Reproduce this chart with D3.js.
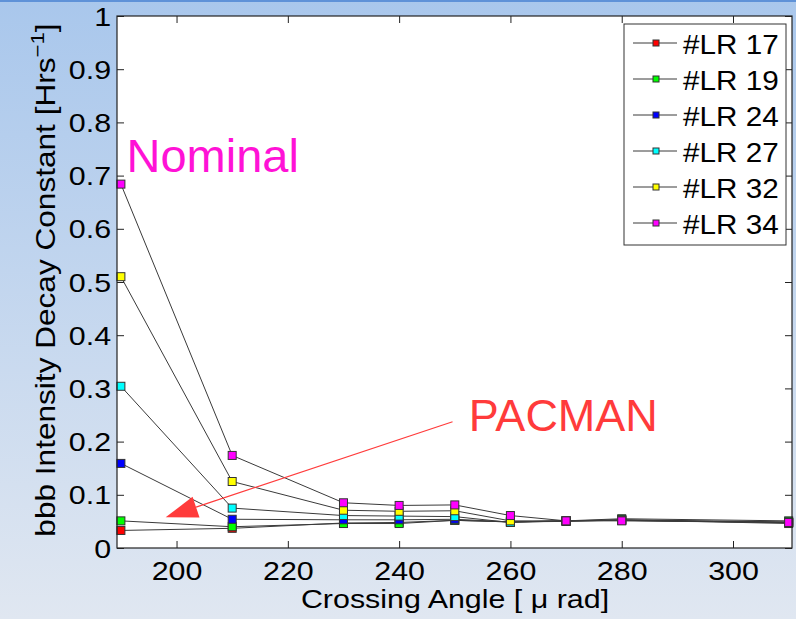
<!DOCTYPE html>
<html>
<head>
<meta charset="utf-8">
<script src="https://cdn.jsdelivr.net/npm/d3@7"></script>
<style>
  html, body { margin: 0; padding: 0; overflow: hidden; }
  text { font-family: "Liberation Sans", Arial, sans-serif; }
</style>
</head>
<body>
<script>
var w = 796;
var h = 619;

// crossing angle [urad]
var angles = [190, 210, 230, 240, 250, 260, 270, 280, 310];

// decay constants per long range setting
var lr17 = [0.033, 0.037, 0.047, 0.048, 0.052, 0.049, 0.050, 0.053, 0.046];
var lr19 = [0.051, 0.040, 0.046, 0.046, 0.052, 0.049, 0.051, 0.055, 0.051];
var lr24 = [0.159, 0.054, 0.053, 0.053, 0.054, 0.049, 0.051, 0.053, 0.049];
var lr27 = [0.304, 0.075, 0.061, 0.060, 0.059, 0.048, 0.051, 0.052, 0.048];
var lr32 = [0.510, 0.125, 0.071, 0.069, 0.070, 0.051, 0.051, 0.052, 0.048];
var lr34 = [0.684, 0.174, 0.085, 0.080, 0.081, 0.061, 0.051, 0.051, 0.048];

var seriesNames = ["#LR 17", "#LR 19", "#LR 24", "#LR 27", "#LR 32", "#LR 34"];
var seriesColors = ["#ff0000", "#00ff00", "#0000ff", "#00ffff", "#ffff00", "#ff00ff"];

var xTicks = [200, 220, 240, 260, 280, 300];
var yTicks = [0, 0.1, 0.2, 0.3, 0.4, 0.5, 0.6, 0.7, 0.8, 0.9, 1];
var yTickLabels = ["0", "0.1", "0.2", "0.3", "0.4", "0.5", "0.6", "0.7", "0.8", "0.9", "1"];

var series = [lr17, lr19, lr24, lr27, lr32, lr34].map(function(vals, i) {
  return {
    name: seriesNames[i],
    color: seriesColors[i],
    values: vals.map(function(v, j) { return { x: angles[j], y: v }; })
  };
});

var plot = { left: 117, right: 792, top: 16, bottom: 548 };
var stretch = 1.17;

var xScale = d3.scaleLinear()
  .domain([189.3, 310.6])
  .range([plot.left, plot.right]);

var yScale = d3.scaleLinear()
  .domain([0, 1])
  .range([plot.bottom, plot.top]);

var svg = d3.select("body")
  .append("svg")
  .attr("width", w)
  .attr("height", h);

// background gradient like the slide
var defs = svg.append("defs");
var grad = defs.append("linearGradient")
  .attr("id", "bg")
  .attr("x1", 0).attr("y1", 0)
  .attr("x2", 0).attr("y2", 1);
grad.append("stop").attr("offset", "0%").attr("stop-color", "#a9c7ec");
grad.append("stop").attr("offset", "100%").attr("stop-color", "#e0e7f1");

svg.append("rect")
  .attr("width", w)
  .attr("height", h)
  .attr("fill", "url(#bg)");

svg.append("rect")
  .attr("width", w)
  .attr("height", 2)
  .attr("fill", "#5f92d8");

// axes box
svg.append("rect")
  .attr("x", plot.left)
  .attr("y", plot.top)
  .attr("width", plot.right - plot.left)
  .attr("height", plot.bottom - plot.top)
  .attr("fill", "#ffffff");

// ticks (inward, on all four sides)
var xAxis = d3.axisBottom(xScale).tickValues(xTicks).tickSize(-7).tickPadding(12);
var xAxisTop = d3.axisTop(xScale).tickValues(xTicks).tickSize(-7).tickFormat("");
var yAxis = d3.axisLeft(yScale).tickValues(yTicks).tickSize(-7).tickPadding(13)
  .tickFormat(function(d, i) { return yTickLabels[i]; });
var yAxisRight = d3.axisRight(yScale).tickValues(yTicks).tickSize(-7).tickFormat("");

function styleAxis(g) {
  g.select(".domain").remove();
  g.selectAll(".tick line").attr("stroke", "#222").attr("stroke-width", 1);
  g.selectAll(".tick text")
    .attr("fill", "#000")
    .attr("font-size", 26)
    .attr("font-family", "Liberation Sans, Arial, sans-serif");
}

svg.append("g")
  .attr("transform", "translate(0," + plot.bottom + ")")
  .call(xAxis)
  .call(styleAxis)
  .selectAll(".tick text")
  .attr("dy", null)
  .attr("y", 32)
  .attr("transform", "scale(" + stretch + ",1)");

svg.append("g")
  .attr("transform", "translate(0," + plot.top + ")")
  .call(xAxisTop)
  .call(styleAxis);

svg.append("g")
  .attr("transform", "translate(" + plot.left + ",0)")
  .call(yAxis)
  .call(styleAxis)
  .selectAll(".tick text")
  .attr("dy", null)
  .attr("y", 9)
  .attr("x", -5)
  .attr("transform", "scale(" + stretch + ",1)");

svg.append("g")
  .attr("transform", "translate(" + plot.right + ",0)")
  .call(yAxisRight)
  .call(styleAxis);

// data lines and markers
var line = d3.line()
  .x(function(d) { return xScale(d.x); })
  .y(function(d) { return yScale(d.y); });

var dataG = svg.append("g");

series.forEach(function(s) {
  dataG.append("path")
    .datum(s.values)
    .attr("d", line)
    .attr("fill", "none")
    .attr("stroke", "#3a3a3a")
    .attr("stroke-width", 1);

  dataG.selectAll(null)
    .data(s.values)
    .enter()
    .append("rect")
    .attr("x", function(d) { return xScale(d.x) - 4; })
    .attr("y", function(d) { return yScale(d.y) - 4; })
    .attr("width", 8)
    .attr("height", 8)
    .attr("fill", s.color)
    .attr("stroke", "#333")
    .attr("stroke-width", 1);
});

// box outline on top
svg.append("rect")
  .attr("x", plot.left)
  .attr("y", plot.top)
  .attr("width", plot.right - plot.left)
  .attr("height", plot.bottom - plot.top)
  .attr("fill", "none")
  .attr("stroke", "#222")
  .attr("stroke-width", 1.2);

// axis labels
svg.append("text")
  .attr("transform", "translate(455,608) scale(" + stretch + ",1)")
  .attr("text-anchor", "middle")
  .attr("font-size", 26)
  .attr("fill", "#000")
  .text("Crossing Angle [ \u03bc rad]");

var yLab = svg.append("text")
  .attr("transform", "translate(55,280) rotate(-90) scale(" + stretch + ",1)")
  .attr("text-anchor", "middle")
  .attr("font-size", 27)
  .attr("fill", "#000");
yLab.append("tspan").text("bbb Intensity Decay Constant [Hrs");
yLab.append("tspan").attr("dy", -11).attr("font-size", 19).text("\u22121");
yLab.append("tspan").attr("dy", 11).text("]");

// legend
var legend = svg.append("g").attr("transform", "translate(624,24)");
legend.append("rect")
  .attr("width", 162)
  .attr("height", 221)
  .attr("fill", "#fff")
  .attr("stroke", "#333")
  .attr("stroke-width", 1);

var rowY = d3.scalePoint().domain(seriesNames).range([19, 199]);

var rows = legend.selectAll(".row")
  .data(series)
  .enter()
  .append("g")
  .attr("transform", function(d) { return "translate(0," + rowY(d.name) + ")"; });

rows.append("line")
  .attr("x1", 9).attr("x2", 53)
  .attr("stroke", "#3a3a3a")
  .attr("stroke-width", 1);

rows.append("rect")
  .attr("x", 29).attr("y", -3)
  .attr("width", 6).attr("height", 6)
  .attr("fill", function(d) { return d.color; })
  .attr("stroke", "#333")
  .attr("stroke-width", 1);

rows.append("text")
  .attr("transform", "translate(59,11) scale(1.06,1)")
  .attr("font-size", 28)
  .attr("fill", "#000")
  .text(function(d) { return d.name; });

// annotations
svg.append("text")
  .attr("x", xScale(191.0))
  .attr("y", yScale(0.706))
  .attr("font-size", 47)
  .attr("fill", "#ff12d6")
  .text("Nominal");

svg.append("text")
  .attr("x", xScale(252.5))
  .attr("y", yScale(0.22))
  .attr("font-size", 45)
  .attr("fill", "#ff3b3b")
  .text("PACMAN");

// arrow from PACMAN label toward the low-angle points
var ax0 = xScale(249.6), ay0 = yScale(0.2374);
var ax1 = xScale(198.05), ay1 = yScale(0.0577);
var len = Math.hypot(ax1 - ax0, ay1 - ay0);
var ux = (ax1 - ax0) / len, uy = (ay1 - ay0) / len;
var headLen = 32, headHalf = 11;
var bx = ax1 - ux * headLen, by = ay1 - uy * headLen;

svg.append("line")
  .attr("x1", ax0).attr("y1", ay0)
  .attr("x2", bx).attr("y2", by)
  .attr("stroke", "#ff3b3b")
  .attr("stroke-width", 1.2);

svg.append("path")
  .attr("d", d3.line()([
    [ax1, ay1],
    [bx - uy * headHalf, by + ux * headHalf],
    [bx + uy * headHalf, by - ux * headHalf]
  ]) + "Z")
  .attr("fill", "#ff3b3b");
</script>
</body>
</html>
